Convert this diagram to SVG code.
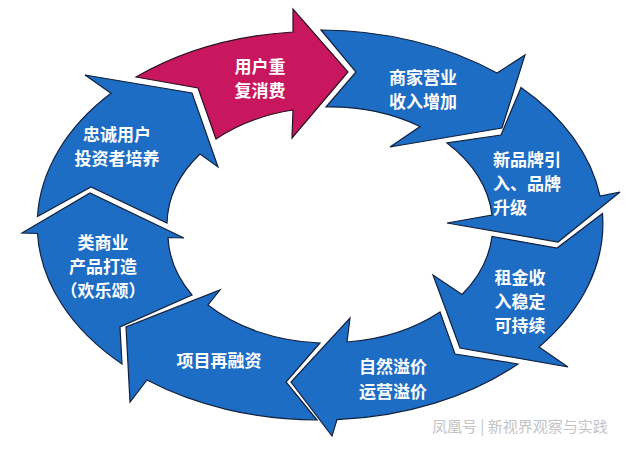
<svg xmlns="http://www.w3.org/2000/svg" width="636" height="450" viewBox="0 0 636 450">
<style>
.blue{fill:#1d6dc4;stroke:#12213d;stroke-width:1.2;stroke-linejoin:miter}
.mag{fill:#c8175f;stroke:#2a1020;stroke-width:1.2;stroke-linejoin:miter}
.lbl{font-family:"Noto Sans CJK SC","Noto Sans",sans-serif;font-size:17px;font-weight:bold;fill:#ffffff;text-anchor:middle}
.wm{font-family:"Noto Sans CJK SC","Noto Sans",sans-serif;font-size:15px;fill:#c4c4c4}
</style>
<rect width="636" height="450" fill="#ffffff"/>
<g id="node-repeat">
<path class="mag" d="M136,77 L198,88 L216,139 A163,118 0 0,1 293,110 L292,138 L348,72 L293,9 L293,32 A283,195 0 0,0 136,77 Z"/>
<text class="lbl" x="260" y="72.5">用户重</text>
<text class="lbl" x="260" y="96.5">复消费</text>
</g>
<g id="node-revenue">
<path class="blue" d="M321,30 L356,72 L326,107 A163,118 0 0,1 420,126.5 L390,147 L502,128 L525,55 L497,73 A283,195 0 0,0 321,30 Z"/>
<text class="lbl" x="423" y="83.5">商家营业</text>
<text class="lbl" x="423" y="107.5">收入增加</text>
</g>
<g id="node-brand">
<path class="blue" d="M521,87.5 L501,135 L447,143 A163,118 0 0,1 492,215 L447,223 L558,242 L620,192 L600,196 A283,195 0 0,0 521,87.5 Z"/>
<text class="lbl" x="493" y="165.5" style="text-anchor:start">新品牌引</text>
<text class="lbl" x="493" y="189.5" style="text-anchor:start">入、品牌</text>
<text class="lbl" x="493" y="213.5" style="text-anchor:start">升级</text>
</g>
<g id="node-rent">
<path class="blue" d="M602.5,213.5 L557,248 L492,236.5 A163,118 0 0,1 462,294.5 L433,275 L460,348 L568,367 L539,347 A283,195 0 0,0 602.5,213.5 Z"/>
<text class="lbl" x="520" y="283.5">租金收</text>
<text class="lbl" x="520" y="307.5">入稳定</text>
<text class="lbl" x="520" y="331.5">可持续</text>
</g>
<g id="node-premium">
<path class="blue" d="M518,364 L455,354 L440,312 A163,118 0 0,1 347,342 L350,318 L291,382 L332,436 L337,419.6 A283,195 0 0,0 518,364 Z"/>
<text class="lbl" x="393" y="372.5">自然溢价</text>
<text class="lbl" x="393" y="397.5">运营溢价</text>
</g>
<g id="node-refinance">
<path class="blue" d="M317,420 L286,382 L320,343 A163,118 0 0,1 208,305 L220,290 L126,327 L130,402 L147,380 A283,195 0 0,0 317,420 Z"/>
<text class="lbl" x="219" y="366.5">项目再融资</text>
</g>
<g id="node-product">
<path class="blue" d="M122,364 L120,327 L192,295 A163,118 0 0,1 168,237.5 L184,238 L90,193 L22,233 L37.5,233.5 A283,195 0 0,0 122,364 Z"/>
<text class="lbl" x="103" y="248.5">类商业</text>
<text class="lbl" x="103" y="272.5">产品打造</text>
<text class="lbl" x="103" y="296.5">（欢乐颂）</text>
</g>
<g id="node-loyal">
<path class="blue" d="M37.5,216.5 L91,187 L167,223 A163,118 0 0,1 200,154 L218,167 L192,93 L85,75 L111,93.3 A283,195 0 0,0 37.5,216.5 Z"/>
<text class="lbl" x="117" y="140.5">忠诚用户</text>
<text class="lbl" x="117" y="164.5">投资者培养</text>
</g>
<text class="wm" x="432" y="432">凤凰号 | 新视界观察与实践</text>
</svg>
